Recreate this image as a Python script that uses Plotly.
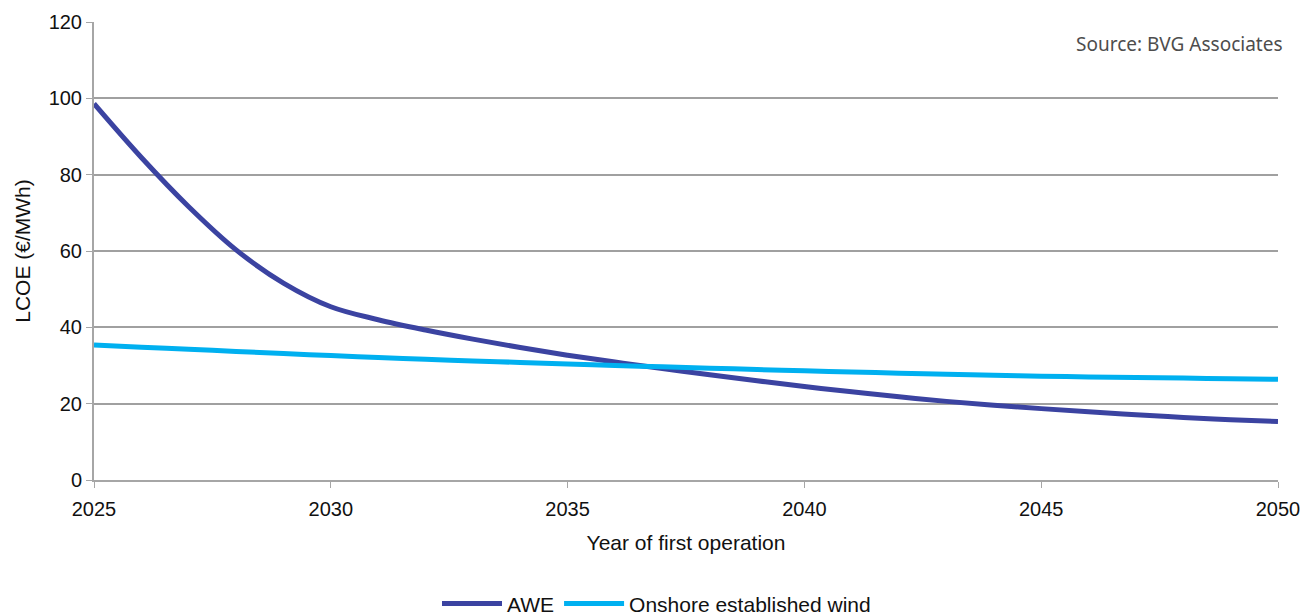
import plotly.graph_objects as go

# Levelised cost of energy projections, EUR/MWh, by year of first operation
years = list(range(2025, 2051))
awe = [98.6, 84.5, 71.6, 60.3, 51.6, 45.4, 42.0, 39.3, 36.9, 34.7,
       32.7, 30.9, 29.2, 27.6, 26.0, 24.5, 23.1, 21.8, 20.6, 19.6,
       18.7, 17.9, 17.1, 16.4, 15.8, 15.3]
onshore = [35.4, 34.8, 34.25, 33.7, 33.15, 32.6, 32.1, 31.65, 31.2, 30.8,
           30.4, 30.0, 29.65, 29.3, 28.95, 28.6, 28.3, 28.0, 27.7, 27.45,
           27.2, 27.0, 26.85, 26.7, 26.55, 26.4]

x_ticks = [2025, 2030, 2035, 2040, 2045, 2050]
y_ticks = [0, 20, 40, 60, 80, 100, 120]

SANS = "Liberation Sans, Arial, sans-serif"
TICK_FONT = dict(family=SANS, size=20, color="#111111")
LABEL_FONT = dict(family=SANS, size=21, color="#111111")

fig = go.Figure()
fig.add_trace(go.Scatter(
    x=years, y=awe, name="AWE", mode="lines",
    line=dict(color="#3b43a1", width=5, shape="spline", smoothing=1.0),
))
fig.add_trace(go.Scatter(
    x=years, y=onshore, name="Onshore established wind", mode="lines",
    line=dict(color="#00b0f0", width=5, shape="spline", smoothing=1.0),
))

fig.update_layout(
    width=1313, height=615,
    margin=dict(l=94, r=35, t=22, b=135, autoexpand=False),
    plot_bgcolor="white", paper_bgcolor="white",
    font=TICK_FONT,
    showlegend=True,
    legend=dict(
        orientation="h", xref="container", yref="container",
        x=0.5, xanchor="center", y=0.018, yanchor="middle",
        font=LABEL_FONT, itemwidth=60, traceorder="normal",
    ),
    xaxis=dict(
        range=[2025, 2050], tickvals=x_ticks, ticktext=[str(t) for t in x_ticks],
        showgrid=False, zeroline=False, automargin=False,
        showline=True, linecolor="#a6a6a6", linewidth=2,
        ticks="outside", ticklen=6, tickcolor="#a6a6a6", tickwidth=1,
        ticklabelstandoff=4,
        title=dict(text="Year of first operation", standoff=16, font=LABEL_FONT),
        tickfont=TICK_FONT,
    ),
    yaxis=dict(
        range=[0, 120], tickvals=y_ticks,
        showgrid=True, gridcolor="#a0a0a0", gridwidth=2,
        zeroline=False, automargin=False,
        showline=True, linecolor="#a6a6a6", linewidth=2,
        ticks="outside", ticklen=6, tickcolor="#a6a6a6", tickwidth=1,
        title=dict(text="LCOE (€/MWh)", standoff=12, font=LABEL_FONT),
        tickfont=TICK_FONT,
    ),
)

fig.add_annotation(
    text="Source: BVG Associates", xref="paper", yref="paper",
    x=1.006, y=0.952, xanchor="right", yanchor="middle", showarrow=False,
    font=dict(family="Noto Sans, Open Sans, sans-serif", size=19, color="#4d4d4d"),
)

fig.write_html("out.html")
